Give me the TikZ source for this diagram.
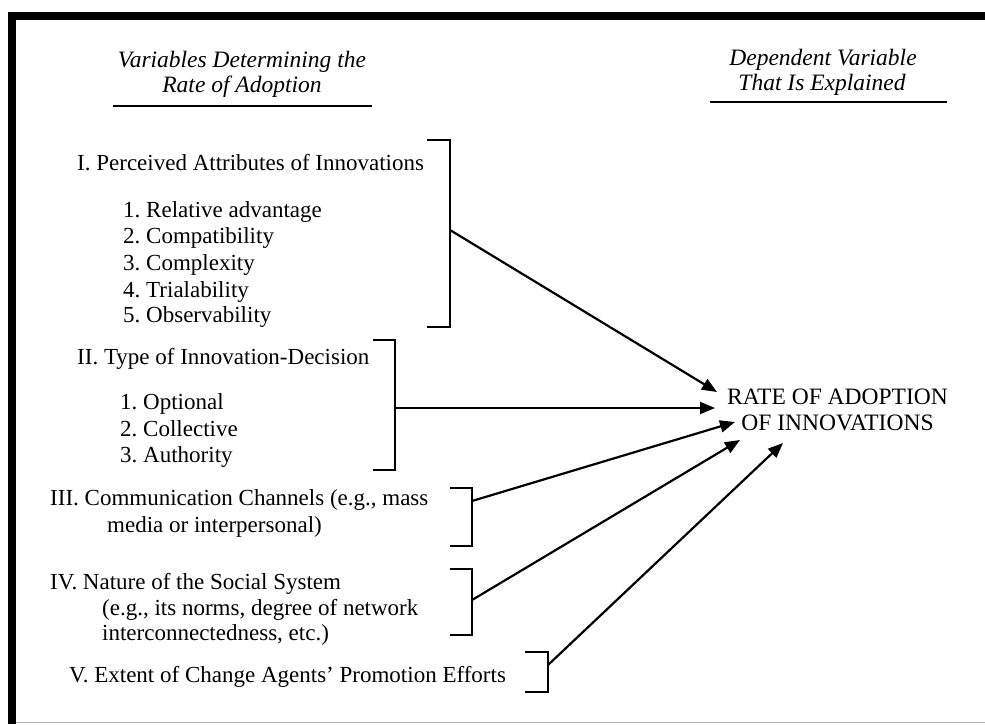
\documentclass[tikz,border=0pt]{standalone}
\usepackage{fontspec}
\setmainfont{Liberation Serif}
\usetikzlibrary{arrows.meta}
\frenchspacing
\begin{document}
\begin{tikzpicture}[x=1pt,y=-1pt,
  txt/.style={anchor=base west, inner sep=0pt, font=\fontsize{23}{26.5}\selectfont},
  ttl/.style={anchor=base, inner sep=0pt, font=\fontsize{23.5}{25}\selectfont\itshape},
  rule/.style={line width=2pt},
  brk/.style={line width=2.2pt},
  arr/.style={line width=2.2pt, -{Triangle[length=15pt,width=12pt]}}]
\useasboundingbox (0,0) rectangle (985,724);
\fill[black] (8,12) rectangle (985,20);
\fill[black] (8,12) rectangle (16,724);
\draw[black!30, line width=1.5pt] (16,722.5) -- (985,722.5);
% titles
\node[ttl] (t1a) at (242,67) {Variables Determining the};
\node[ttl] (t1b) at (242,92) {Rate of Adoption};
\draw[rule] (113,106) -- (372,106);
\node[ttl] (t2a) at (823,65) {Dependent Variable};
\node[ttl] (t2b) at (822,90) {That Is Explained};
\draw[rule] (710,102) -- (947,102);
% group I
\node[txt] (g1) at (77,170) {I. Perceived Attributes of Innovations};
\node[txt] (g1a) at (123,217) {1. Relative advantage};
\node[txt] (g1b) at (123,243) {2. Compatibility};
\node[txt] (g1c) at (123,270) {3. Complexity};
\node[txt] (g1d) at (123,297) {4. Trialability};
\node[txt] (g1e) at (123,322) {5. Observability};
% group II
\node[txt] (g2) at (77,364) {II. Type of Innovation-Decision};
\node[txt] (g2a) at (120,409) {1. Optional};
\node[txt] (g2b) at (120,436) {2. Collective};
\node[txt] (g2c) at (120,462) {3. Authority};
% group III
\node[txt] (g3) at (50,505) {III. Communication Channels (e.g., mass};
\node[txt] (g3b) at (107,532) {media or interpersonal)};
% group IV
\node[txt] (g4) at (50,589) {IV. Nature of the Social System};
\node[txt] (g4b) at (102,615) {(e.g., its norms, degree of network};
\node[txt] (g4c) at (102,640) {interconnectedness, etc.)};
% group V
\node[txt] (g5) at (69,682) {V. Extent of Change Agents' Promotion Efforts};
% brackets
\draw[brk] (427,140) -| (450,327) -- (427,327);
\draw[brk] (373,340) -| (395,470) -- (373,470);
\draw[brk] (450,488) -| (472,546) -- (450,546);
\draw[brk] (450,569) -| (472,635) -- (450,635);
\draw[brk] (525,652) -| (548,692) -- (525,692);
\coordinate (b1) at (450,230);
\coordinate (b2) at (395,408);
\coordinate (b3) at (472,501);
\coordinate (b4) at (472,600);
\coordinate (b5) at (548,665);
% target
\node[align=center, inner sep=0pt, font=\fontsize{23.5}{26}\selectfont] (rate) at (837.5,410) {RATE OF ADOPTION\\OF INNOVATIONS};
\coordinate (a1) at (717,392);
\coordinate (a2) at (715,408);
\coordinate (a3) at (735,422);
\coordinate (a4) at (740,440);
\coordinate (a5) at (783,443);
\draw[arr] (b1) -- (a1);
\draw[arr] (b2) -- (a2);
\draw[arr] (b3) -- (a3);
\draw[arr] (b4) -- (a4);
\draw[arr] (b5) -- (a5);
\end{tikzpicture}
\end{document}
